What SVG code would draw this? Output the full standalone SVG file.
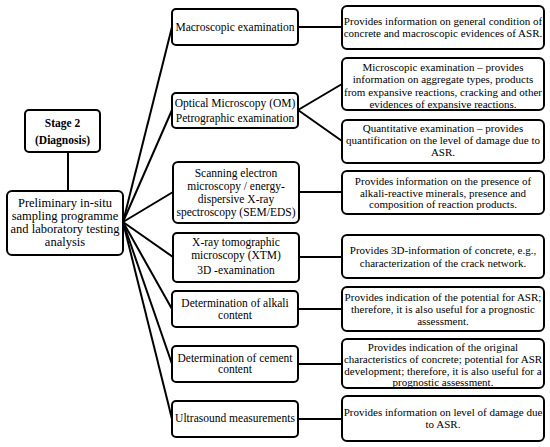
<svg xmlns="http://www.w3.org/2000/svg" width="550" height="447" viewBox="0 0 550 447">
<style>
rect{fill:#fff;stroke:#000;stroke-width:2}
text{font-family:"Liberation Serif","Times New Roman",serif;fill:#000;text-anchor:middle}
.m{font-size:11.5px}
.r{font-size:11px}
.b{font-size:11.5px;font-weight:bold}
.p{font-size:12.5px}
#connectors line{stroke:#000;stroke-width:2}
</style>
<rect x="0" y="0" width="550" height="447" style="stroke:none"/>
<g id="connectors">
<line x1="68" y1="152" x2="68" y2="191"/>
<line x1="123" y1="222" x2="172" y2="27"/>
<line x1="123" y1="222" x2="172" y2="110"/>
<line x1="123" y1="222" x2="173" y2="192"/>
<line x1="123" y1="222" x2="173" y2="257"/>
<line x1="123" y1="222" x2="172" y2="309"/>
<line x1="123" y1="222" x2="172" y2="364"/>
<line x1="123" y1="222" x2="172" y2="419"/>
<line x1="298" y1="27" x2="342" y2="27"/>
<line x1="298" y1="110" x2="342" y2="84"/>
<line x1="298" y1="110" x2="342" y2="141"/>
<line x1="299" y1="192" x2="342" y2="192"/>
<line x1="299" y1="257" x2="342" y2="257"/>
<line x1="298" y1="309" x2="342" y2="309"/>
<line x1="298" y1="364" x2="342" y2="364"/>
<line x1="298" y1="419" x2="342" y2="419"/>
</g>
<g id="stage2"><rect x="25" y="110" width="75" height="42" rx="4"/><text class="b" x="62.5" y="127">Stage 2</text><text class="b" x="62.5" y="144">(Diagnosis)</text></g>
<g id="prelim"><rect x="7" y="191" width="116" height="64" rx="5"/><text class="p" x="65" y="207">Preliminary in-situ</text><text class="p" x="65" y="220">sampling programme</text><text class="p" x="65" y="233">and laboratory testing</text><text class="p" x="65" y="246">analysis</text></g>
<g id="macro"><rect x="172" y="9" width="126" height="36" rx="4"/><text class="m" x="235" y="31">Macroscopic examination</text></g>
<g id="om"><rect x="172" y="93" width="126" height="35" rx="4"/><text class="m" x="235" y="107">Optical Microscopy (OM)</text><text class="m" x="235" y="122">Petrographic examination</text></g>
<g id="sem"><rect x="173" y="162" width="126" height="61" rx="5"/><text class="m" x="236" y="177">Scanning electron</text><text class="m" x="236" y="190">microscopy / energy-</text><text class="m" x="236" y="203">dispersive X-ray</text><text class="m" x="236" y="216">spectroscopy (SEM/EDS)</text></g>
<g id="xtm"><rect x="173" y="233" width="126" height="49" rx="4"/><text class="m" x="236" y="246">X-ray tomographic</text><text class="m" x="236" y="259">microscopy (XTM)</text><text class="m" x="236" y="274">3D -examination</text></g>
<g id="alkali"><rect x="172" y="291" width="126" height="36" rx="4"/><text class="m" x="235" y="307">Determination of alkali</text><text class="m" x="235" y="319">content</text></g>
<g id="cement"><rect x="172" y="346" width="126" height="36" rx="4"/><text class="m" x="235" y="362">Determination of cement</text><text class="m" x="235" y="373">content</text></g>
<g id="ultra"><rect x="172" y="401" width="126" height="36" rx="4"/><text class="m" x="235" y="422">Ultrasound measurements</text></g>
<g id="r1"><rect x="342" y="6" width="202" height="43" rx="5"/><text class="r" x="443" y="25">Provides information on general condition of</text><text class="r" x="443" y="37">concrete and macroscopic evidences of ASR.</text></g>
<g id="r2"><rect x="342" y="58" width="202" height="52" rx="5"/><text class="r" x="443" y="71">Microscopic examination – provides</text><text class="r" x="443" y="83">information on aggregate types, products</text><text class="r" x="443" y="96">from expansive reactions, cracking and other</text><text class="r" x="443" y="108">evidences of expansive reactions.</text></g>
<g id="r3"><rect x="342" y="120" width="202" height="43" rx="5"/><text class="r" x="443" y="132">Quantitative examination – provides</text><text class="r" x="443" y="144">quantification on the level of damage due to</text><text class="r" x="443" y="156">ASR.</text></g>
<g id="r4"><rect x="342" y="171" width="202" height="43" rx="5"/><text class="r" x="443" y="185">Provides information on the presence of</text><text class="r" x="443" y="197">alkali-reactive minerals, presence and</text><text class="r" x="443" y="208">composition of reaction products.</text></g>
<g id="r5"><rect x="342" y="235" width="202" height="43" rx="5"/><text class="r" x="443" y="254">Provides 3D-information of concrete, e.g.,</text><text class="r" x="443" y="267">characterization of the crack network.</text></g>
<g id="r6"><rect x="342" y="287" width="202" height="44" rx="5"/><text class="r" x="443" y="301">Provides indication of the potential for ASR;</text><text class="r" x="443" y="313">therefore, it is also useful for a prognostic</text><text class="r" x="443" y="325">assessment.</text></g>
<g id="r7"><rect x="342" y="339" width="202" height="49" rx="5"/><text class="r" x="443" y="351">Provides indication of the original</text><text class="r" x="443" y="363">characteristics of concrete; potential for ASR</text><text class="r" x="443" y="375">development; therefore, it is also useful for a</text><text class="r" x="443" y="386">prognostic assessment.</text></g>
<g id="r8"><rect x="342" y="396" width="202" height="45" rx="5"/><text class="r" x="443" y="416">Provides information on level of damage due</text><text class="r" x="443" y="428">to ASR.</text></g>
</svg>
